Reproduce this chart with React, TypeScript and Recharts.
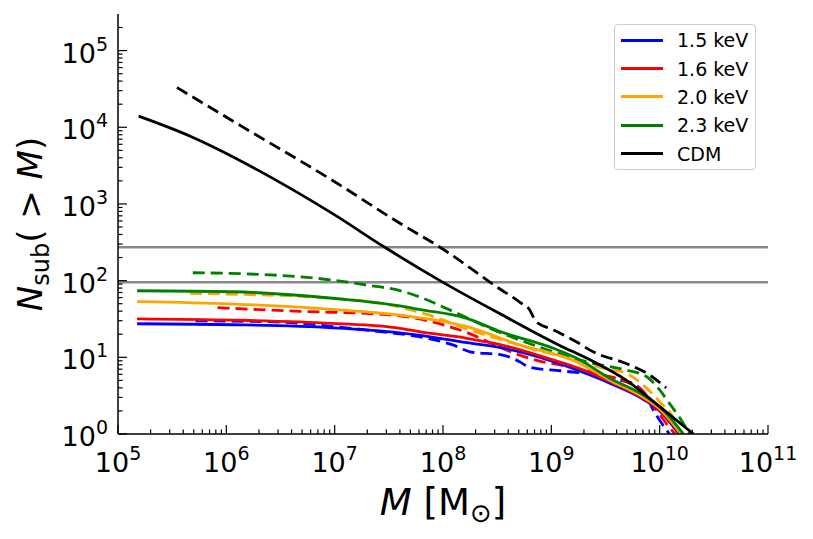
import * as React from "react"
import {
  LineChart,
  Line,
  XAxis,
  YAxis,
  ReferenceLine,
  Legend,
} from "recharts"

// subhalo mass function, M in Msun, N(>M)
const cdmM = [1.55e5, 4.7e5, 8.1e5, 1.55e6, 1e7, 2.9e7, 1e8, 3.3e8, 1.17e9, 2.45e9, 4.9e9, 1e10, 2.05e10]
const cdmN = [14000, 7600, 5300, 3300, 720, 272, 95, 37.5, 14.5, 8.8, 5.05, 2.27, 1.0]
const cdmDashM = [3.5e5, 1.4e6, 9.5e6, 4e7, 9.3e7, 3.3e8, 5.1e8, 6.3e8, 7.2e8, 1.05e9, 1.7e9, 2.43e9, 4.9e9, 7.6e9, 1.15e10]
const cdmDashN = [33000, 10200, 2040, 560, 275, 79, 52.5, 41.7, 29.5, 22.7, 16.0, 11.8, 8.3, 6.2, 4.0]

const k15M = [1.5e5, 1.15e6, 9.5e6, 4e7, 6e7, 1.66e8, 3.3e8, 1.05e9, 1.8e9, 3.5e9, 7.1e9, 1e10, 1.51e10]
const k15N = [27.4, 26.6, 24.3, 20.9, 19.5, 15.5, 13.5, 8.77, 6.68, 4.57, 2.82, 2.0, 1.0]
const k15DashM = [5.2e5, 3.2e6, 1e7, 2.8e7, 6e7, 1.23e8, 1.78e8, 3.55e8, 5.1e8, 6.3e8, 1.2e9, 1.8e9, 2.8e9, 4.3e9, 6e9, 7.6e9, 8.7e9, 1e10, 1.23e10]
const k15DashN = [30, 28.8, 25.1, 21.4, 18.6, 14.5, 11.8, 10.7, 8.77, 7.41, 6.68, 6.31, 5.9, 5.06, 4.37, 3.06, 2.06, 1.51, 1.0]

const k16M = [1.5e5, 1.15e6, 9.5e6, 4e7, 6e7, 1.66e8, 3.3e8, 1.05e9, 1.8e9, 3.5e9, 7.1e9, 1e10, 1.55e10]
const k16N = [31.8, 30.6, 27.7, 23.9, 21.6, 17.7, 14.8, 9.2, 7.2, 4.8, 2.9, 2.04, 1.0]
const k16DashM = [8.3e5, 4.8e6, 2.8e7, 7.1e7, 1.41e8, 5.1e8, 7.2e8, 1.48e9, 2.8e9, 4.9e9, 7.1e9, 9.3e9, 1.15e10, 1.38e10]
const k16DashN = [44.4, 39.8, 36.3, 30.2, 22.9, 10.7, 9.2, 7.5, 6.0, 4.8, 3.56, 2.06, 1.38, 1.0]

const k20M = [1.5e5, 1.15e6, 9.5e6, 4e7, 1.23e8, 1.66e8, 5.1e8, 1.7e9, 3.5e9, 7.1e9, 1e10, 1.58e10]
const k20N = [53.1, 49.5, 42.3, 35.5, 27.7, 25.1, 14.5, 8.77, 5.0, 3.0, 2.14, 1.0]
const k20DashM = [4.6e5, 1.4e6, 9.5e6, 2.8e7, 7.1e7, 1.78e8, 3.55e8, 7.2e8, 1.58e9, 2.8e9, 4.9e9, 7.6e9, 1e10, 1.32e10, 1.58e10]
const k20DashN = [68.2, 66.1, 58.9, 50.1, 36.3, 22.7, 16.8, 12.4, 9.55, 7.4, 6.18, 3.94, 2.63, 1.68, 1.0]

const k23M = [1.5e5, 1.15e6, 9.5e6, 4e7, 6e7, 1.66e8, 3.3e8, 1.05e9, 1.7e9, 3.5e9, 7.1e9, 1e10, 1.66e10]
const k23N = [73.8, 71.6, 58.9, 46.7, 42.2, 32.2, 21.9, 13.1, 9.8, 5.3, 3.2, 2.27, 1.0]
const k23DashM = [4.9e5, 1.4e6, 4.8e6, 9.5e6, 1.95e7, 4e7, 6e7, 1.23e8, 2.5e8, 5.1e8, 1.05e9, 2.43e9, 4.9e9, 7.6e9, 1e10, 1.23e10, 1.51e10, 1.9e10]
const k23DashN = [126.8, 123, 112, 101.9, 87.7, 74.1, 61.7, 39.8, 25.1, 16.8, 11.8, 8.36, 6.82, 5.58, 3.75, 2.51, 1.68, 1.0]

const hLines = [272, 95]

const xMajor = [1e5, 1e6, 1e7, 1e8, 1e9, 1e10, 1e11]
const yMajor = [1, 1e1, 1e2, 1e3, 1e4, 1e5]
const minors = [2, 3, 4, 5, 6, 7, 8, 9]

const xTicks = [...xMajor, ...xMajor.slice(0, -1).flatMap((d) => minors.map((k) => d * k))]
const yTicks = [...yMajor, ...yMajor.slice(0, -1).flatMap((d) => minors.map((k) => d * k)), 2e5]

const zip = (m: number[], n: number[]) => m.map((v, i) => ({ m: v, n: n[i] }))

const series = [
  { name: "1.5 keV", color: "#0000ff", solid: zip(k15M, k15N), dashed: zip(k15DashM, k15DashN) },
  { name: "1.6 keV", color: "#ff0000", solid: zip(k16M, k16N), dashed: zip(k16DashM, k16DashN) },
  { name: "2.0 keV", color: "#ffa500", solid: zip(k20M, k20N), dashed: zip(k20DashM, k20DashN) },
  { name: "2.3 keV", color: "#008000", solid: zip(k23M, k23N), dashed: zip(k23DashM, k23DashN) },
  { name: "CDM", color: "#000000", solid: zip(cdmM, cdmN), dashed: zip(cdmDashM, cdmDashN) },
]

const FONT = "DejaVu Sans, Verdana, sans-serif"
const MAJOR_LEN = 9
const MINOR_LEN = 4.5

const isMajor = (v: number) => {
  const l = Math.log10(v)
  return Math.abs(l - Math.round(l)) < 1e-9
}

const Pow = ({ v }: { v: number }) => (
  <>
    10
    <tspan dy={-12} fontSize={19}>
      {Math.round(Math.log10(v))}
    </tspan>
  </>
)

const BottomTick = ({ x, y, payload }: any) => {
  const major = isMajor(payload.value)
  return (
    <g>
      <line x1={x} x2={x} y1={y} y2={y - (major ? MAJOR_LEN : MINOR_LEN)} stroke="#000" strokeWidth={1.2} />
      {major && (
        <text x={x} y={y + 38} textAnchor="middle" fontSize={27} fontFamily={FONT} fill="#000">
          <Pow v={payload.value} />
        </text>
      )}
    </g>
  )
}

const TopTick = ({ x, y, payload }: any) => (
  <line x1={x} x2={x} y1={y} y2={y + (isMajor(payload.value) ? MAJOR_LEN : MINOR_LEN)} stroke="#000" strokeWidth={1.2} />
)

const LeftTick = ({ x, y, payload }: any) => {
  const major = isMajor(payload.value)
  return (
    <g>
      <line x1={x} x2={x + (major ? MAJOR_LEN : MINOR_LEN)} y1={y} y2={y} stroke="#000" strokeWidth={1.2} />
      {major && (
        <text x={x - 10} y={y + 12} textAnchor="end" fontSize={27} fontFamily={FONT} fill="#000">
          <Pow v={payload.value} />
        </text>
      )}
    </g>
  )
}

const RightTick = ({ x, y, payload }: any) => (
  <line x1={x} x2={x - (isMajor(payload.value) ? MAJOR_LEN : MINOR_LEN)} y1={y} y2={y} stroke="#000" strokeWidth={1.2} />
)

const XLabel = ({ viewBox }: any) => {
  const cx = viewBox.x + viewBox.width / 2
  const by = viewBox.y + 81
  return (
    <text x={cx} y={by} textAnchor="middle" fontSize={37} fontFamily={FONT} fill="#000">
      <tspan fontStyle="italic">M</tspan>
      <tspan> [M</tspan>
      <tspan dy={7} fontSize={26}>⊙</tspan>
      <tspan dy={-7}>]</tspan>
    </text>
  )
}

const YLabel = ({ viewBox }: any) => {
  const cx = viewBox.x + 34
  const cy = viewBox.y + viewBox.height / 2
  return (
    <text
      x={cx}
      y={cy}
      transform={`rotate(-90 ${cx} ${cy})`}
      textAnchor="middle"
      fontSize={34}
      fontFamily={FONT}
      fill="#000"
    >
      <tspan fontStyle="italic">N</tspan>
      <tspan dy={7} fontSize={24}>sub</tspan>
      <tspan dy={-7}>( &gt; </tspan>
      <tspan fontStyle="italic">M</tspan>
      <tspan>)</tspan>
    </text>
  )
}

const renderLegend = ({ payload }: any) => {
  const items = (payload || []).filter((p: any) => p.type !== "none" && !p.inactive)
  return (
    <div
      style={{
        border: "1px solid #cccccc",
        borderRadius: 4,
        background: "#ffffff",
        padding: "1px 0",
        width: 142,
        boxSizing: "border-box",
      }}
    >
      {items.map((p: any) => (
        <div key={p.value} style={{ display: "flex", alignItems: "center", height: 28.4 }}>
          <span style={{ marginLeft: 6, width: 42, height: 3, background: p.color, display: "inline-block" }} />
          <span style={{ marginLeft: 14, fontSize: 19, fontFamily: FONT, color: "#000", lineHeight: "20px" }}>
            {p.value}
          </span>
        </div>
      ))}
    </div>
  )
}

export default function App() {
  return (
    <div style={{ width: 800, height: 525, fontFamily: FONT }}>
      <LineChart width={800} height={525} margin={{ top: 6, right: 40, bottom: 0, left: 0 }}>
        <XAxis
          xAxisId="bottom"
          dataKey="m"
          type="number"
          scale="log"
          domain={[1e5, 1e11]}
          allowDataOverflow
          ticks={xTicks}
          interval={0}
          tickSize={0}
          tickMargin={0}
          tick={<BottomTick />}
          tickLine={false}
          axisLine={{ stroke: "#000", strokeWidth: 1.5 }}
          height={99}
          label={<XLabel />}
        />
        <XAxis
          xAxisId="top"
          orientation="top"
          dataKey="m"
          type="number"
          scale="log"
          domain={[1e5, 1e11]}
          allowDataOverflow
          ticks={xTicks}
          interval={0}
          tickSize={0}
          tickMargin={0}
          tick={<TopTick />}
          tickLine={false}
          axisLine={{ stroke: "#000", strokeWidth: 1.5 }}
          height={0}
        />
        <YAxis
          yAxisId="left"
          type="number"
          scale="log"
          domain={[1, 3e5]}
          allowDataOverflow
          ticks={yTicks}
          interval={0}
          tickSize={0}
          tickMargin={0}
          tick={<LeftTick />}
          tickLine={false}
          axisLine={{ stroke: "#000", strokeWidth: 1.5 }}
          width={110}
          label={<YLabel />}
        />
        <YAxis
          yAxisId="right"
          orientation="right"
          type="number"
          scale="log"
          domain={[1, 3e5]}
          allowDataOverflow
          ticks={yTicks}
          interval={0}
          tickSize={0}
          tickMargin={0}
          tick={<RightTick />}
          tickLine={false}
          axisLine={{ stroke: "#000", strokeWidth: 1.5 }}
          width={0}
        />
        {hLines.map((v) => (
          <ReferenceLine key={v} xAxisId="bottom" yAxisId="left" y={v} stroke="#888888" strokeWidth={2.5} />
        ))}
        {series.map((s) => (
          <Line
            key={s.name + "-dash"}
            xAxisId="bottom"
            yAxisId="left"
            data={s.dashed}
            dataKey="n"
            name={s.name + " (dashed)"}
            legendType="none"
            type="monotone"
            stroke={s.color}
            strokeWidth={2.8}
            strokeDasharray="12 6"
            dot={false}
            activeDot={false}
            isAnimationActive={false}
          />
        ))}
        {series.map((s) => (
          <Line
            key={s.name}
            xAxisId="bottom"
            yAxisId="left"
            data={s.solid}
            dataKey="n"
            name={s.name}
            type="monotone"
            stroke={s.color}
            strokeWidth={2.8}
            dot={false}
            activeDot={false}
            isAnimationActive={false}
          />
        ))}
        <Legend
          layout="vertical"
          verticalAlign="middle"
          align="center"
          content={renderLegend}
          wrapperStyle={{ position: "absolute", top: 16, left: 606, width: 142 }}
        />
      </LineChart>
    </div>
  )
}
